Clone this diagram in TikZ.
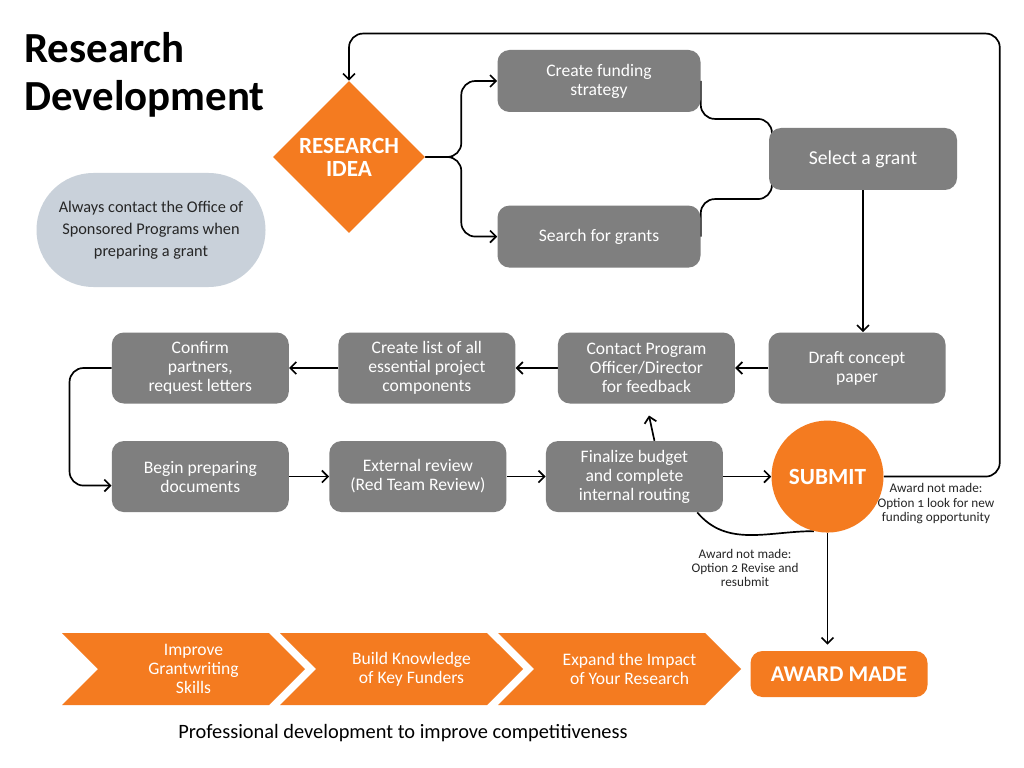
\documentclass[tikz,border=0pt]{standalone}
\usepackage{fontspec}
\setmainfont{Carlito}
\usepackage{xcolor}
\usetikzlibrary{arrows.meta,positioning,shapes.geometric,shapes.symbols}
\definecolor{rdorange}{RGB}{244,123,32}
\definecolor{rdgray}{RGB}{127,127,127}
\definecolor{rdblue}{RGB}{201,209,218}
\pgfdeclarelayer{paper}
\pgfdeclarelayer{back}
\pgfsetlayers{paper,back,main}

\begin{document}
\begin{tikzpicture}[
  stepbox/.style={fill=rdgray, rounded corners=0.3cm, text=white, align=center,
    minimum width=4.425cm, minimum height=1.775cm, inner sep=2pt,
    font=\fontsize{12.5}{13.5}\selectfont},
  widebox/.style={stepbox, minimum width=5.075cm, minimum height=1.55cm},
  hot/.style={fill=rdorange, text=white, align=center,
    font=\bfseries\fontsize{16.5}{16.5}\selectfont},
  chev/.style={signal, signal from=west, signal to=east, signal pointer angle=90,
    fill=rdorange, inner sep=0pt, minimum width=6.075cm, minimum height=1.8cm},
  chevtext/.style={text=white, align=center, xshift=0.25cm, font=\fontsize{12.5}{13.5}\selectfont},
  lab/.style={align=center, text=black!85,
    font=\fontsize{9.4}{10.2}\selectfont\addfontfeatures{Numbers=OldStyle}},
  arr/.style={-{Straight Barb[length=1.5mm,width=3mm]}, line width=1.2pt, rounded corners=0.35cm},
  link/.style={line width=1.2pt, rounded corners=0.35cm}
]
  \useasboundingbox (0,0) rectangle (25.6,-19.2);
  \begin{pgfonlayer}{paper}
    \fill[white] (0,0) rectangle (25.6,-19.2);
  \end{pgfonlayer}

  \node[anchor=north west, inner sep=0pt, align=left,
    font=\bfseries\fontsize{30.5}{34}\selectfont] (title) at (0.6,-0.8) {Research\\Development};
  \node[fill=rdblue, rounded corners=1.42cm, minimum width=5.725cm, minimum height=2.85cm,
    align=center, text=black!85, font=\fontsize{11.6}{15.5}\selectfont] (office) at (3.775,-5.75)
    {Always contact the Office of\\Sponsored Programs when\\preparing a grant};

  \node[hot, diamond, minimum width=3.8cm, minimum height=3.8cm, inner sep=0pt] (idea) at (8.725,-3.925) {RESEARCH\\IDEA};
  \node[widebox] (fund) at (14.975,-2.025) {Create funding\\strategy};
  \node[widebox, below=2.325cm of fund] (search) {Search for grants};
  \node[stepbox, minimum width=4.7cm, minimum height=1.55cm,
    font=\fontsize{14}{15}\selectfont] (select) at (21.575,-3.975) {Select a grant};

  \node[stepbox] (draft) at (21.425,-9.2) {Draft concept\\paper};
  \node[stepbox, left=0.825cm of draft] (contact) {Contact Program\\Officer/Director\\for feedback};
  \node[stepbox, left=1.05cm of contact] (list) {Create list of all\\essential project\\components};
  \node[stepbox, left=1.225cm of list] (confirm) {Confirm\\partners,\\request letters};
  \node[stepbox, below=0.925cm of confirm] (begin) {Begin preparing\\documents};
  \node[stepbox, right=1.0cm of begin] (review) {External review\\(Red Team Review)};
  \node[stepbox, right=0.975cm of review] (final) {Finalize budget\\and complete\\internal routing};
  \node[hot, circle, minimum size=2.8cm, inner sep=0pt, right=1.2cm of final] (submit) {SUBMIT};
  \node[hot, rounded corners=0.3cm, minimum width=4.425cm, minimum height=1.15cm,
    font=\bfseries\fontsize{16}{16}\selectfont] (award) at (20.975,-16.85) {AWARD MADE};

  \node[lab] (opt2) at (18.625,-14.2) {Award not made:\\Option 2 Revise and\\resubmit};

  \node[chev, label={[chevtext]center:Improve\\Grantwriting\\Skills}] (skills) at (4.5875,-16.725) {};
  \node[chev, label={[chevtext]center:Build Knowledge\\of Key Funders}] (funders) at (10.0375,-16.725) {};
  \node[chev, label={[chevtext]center:Expand the Impact\\of Your Research}] (impact) at (15.4875,-16.725) {};
  \node[font=\fontsize{14.5}{16}\selectfont] (caption) at (10.075,-18.325)
    {Professional development to improve competitiveness};

  \begin{pgfonlayer}{back}
    \draw[arr] (idea.east) -- ++(0.9,0) |- (fund.west);
    \draw[arr] (idea.east) -- ++(0.9,0) |- (search.west);
    \draw[link] (fund.east) |- ([xshift=0.08cm,yshift=0.22cm]select.north west)
      -- ([xshift=0.08cm,yshift=-0.3cm]select.north west);
    \draw[link] (search.east) |- ([xshift=0.08cm,yshift=-0.22cm]select.south west)
      -- ([xshift=0.08cm,yshift=0.3cm]select.south west);
    \draw[arr] (select.south) -- (select.south |- draft.north);
    \draw[arr] (draft.west) -- (contact.east);
    \draw[arr] (contact.west) -- (list.east);
    \draw[arr] (list.west) -- (confirm.east);
    \draw[arr] (confirm.west) -- ++(-1.05,0) |- ([yshift=-0.225cm]begin.west);
    \draw[arr] (begin.east) -- (review.west);
    \draw[arr] (review.east) -- (final.west);
    \draw[arr] (final.east) -- (submit.west);
    \draw[arr, shorten >=0.3cm] ([xshift=0.5cm]final.north) -- (contact.south);
    \draw[arr] (submit.east) -- node[lab, below=1pt, pos=0.45] {Award not made:\\Option 1 look for new\\funding opportunity}
      ++(2.9,0) -- ++(0,11.075) -| (idea.north);
    \draw[arr, shorten >=0.15cm] (submit.south) -- (submit.south |- award.north);
    \draw[link] (submit.256) to[out=180, in=-50] ([xshift=-0.65cm]final.south east);
  \end{pgfonlayer}
\end{tikzpicture}
\end{document}
